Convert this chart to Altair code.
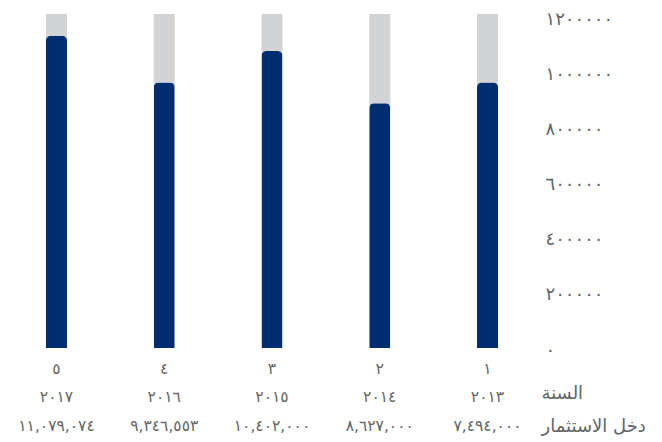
import altair as alt
import pandas as pd

# data (left to right)
index_labels = ["٥", "٤", "٣", "٢", "١"]
years = ["٢٠١٧", "٢٠١٦", "٢٠١٥", "٢٠١٤", "٢٠١٣"]
incomes = ["١١,٠٧٩,٠٧٤", "٩,٣٤٦,٥٥٣", "١٠,٤٠٢,٠٠٠", "٨,٦٢٧,٠٠٠", "٧,٤٩٤,٠٠٠"]
bar_values = [1135000, 965000, 1080000, 890000, 965000]
y_ticks = [0, 200000, 400000, 600000, 800000, 1000000, 1200000]
row_titles = ["السنة", "دخل الاستثمار"]
y_max = 1214545

df = pd.DataFrame({
    "key": [f"{i}|{y}|{v}" for i, y, v in zip(index_labels, years, incomes)],
    "value": bar_values,
    "full": [y_max] * len(bar_values),
})
order = list(df["key"])

digit_expr = "datum.label"
for a, b in zip("0123456789", "٠١٢٣٤٥٦٧٨٩"):
    digit_expr = f"replace({digit_expr}, regexp('{a}', 'g'), '{b}')"

FONT = "DejaVu Sans"
GREY = "#636466"

x = alt.X(
    "key:N", sort=order,
    scale=alt.Scale(paddingInner=0.1, paddingOuter=0),
    axis=alt.Axis(
        labelExpr="split(datum.label, '|')",
        labelAngle=0, labelFontSize=15.5, labelColor=GREY, labelFont=FONT,
        labelLineHeight=28.5, labelPadding=13, labelBaseline="top",
        domain=False, ticks=False,
        title=row_titles, titleFont=FONT, titleFontSize=18, titleFontWeight="normal",
        titleColor=GREY, titleX=533, titleY=50, titleAlign="left",
        titleBaseline="alphabetic", titleLineHeight=33, titleAngle=0,
    ),
)

y_scale = alt.Scale(domain=[0, y_max], nice=False)

bg = alt.Chart(df).mark_bar(color="#d1d3d4", size=21).encode(
    x=x,
    y=alt.Y("full:Q", scale=y_scale, axis=alt.Axis(
        orient="right", values=y_ticks, format="d", labelExpr=digit_expr,
        labelAlign="left", labelPadding=9, labelFontSize=18, labelColor=GREY,
        labelFont=FONT, labelOffset=2, domain=False, ticks=False, grid=False,
        title=None,
    )),
)

bars = alt.Chart(df).mark_bar(
    color="#002d72", size=21, cornerRadiusTopLeft=5, cornerRadiusTopRight=5
).encode(
    x=x,
    y=alt.Y("value:Q", scale=y_scale),
)

chart = alt.layer(bg, bars).properties(
    width=528, height=334,
    padding={"left": 0, "top": 2, "right": 5, "bottom": 5},
).configure_view(stroke=None)

chart.save("out.html", embed_options={"renderer": "svg", "actions": False})
